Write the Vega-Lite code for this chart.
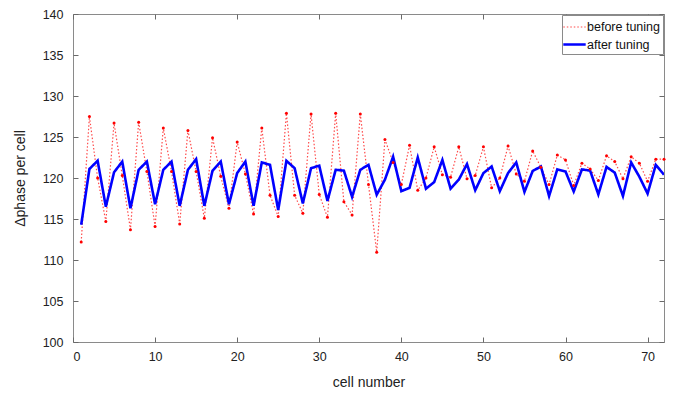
{
  "$schema": "https://vega.github.io/schema/vega-lite/v6.json",
  "width": 591,
  "height": 328,
  "autosize": {"type": "none"},
  "padding": {"left": 73, "top": 14, "right": 11, "bottom": 53},
  "config": {
    "font": "Liberation Sans",
    "view": {"stroke": "#8a8a8a", "strokeWidth": 1},
    "axis": {
      "domain": false,
      "grid": false,
      "tickColor": "#6a6a6a",
      "tickSize": -5,
      "tickWidth": 1,
      "labelFontSize": 12.5,
      "labelColor": "#222222",
      "titleFontSize": 14,
      "titleFontWeight": "normal",
      "titleColor": "#222222"
    },
    "legend": {
      "orient": "top-right",
      "offset": 1,
      "strokeColor": "#8a8a8a",
      "fillColor": "#ffffff",
      "padding": 3,
      "cornerRadius": 0,
      "labelFontSize": 12.5,
      "labelColor": "#111111",
      "symbolType": "M-1.4,0H1.4",
      "symbolSize": 256,
      "rowPadding": 1,
      "labelOffset": 3,
      "labelLimit": 200
    }
  },
  "data": {
    "values": [
      {"cell": 1, "before tuning": 112.2, "after tuning": 114.3},
      {"cell": 2, "before tuning": 127.5, "after tuning": 121.1},
      {"cell": 3, "before tuning": 120.0, "after tuning": 122.1},
      {"cell": 4, "before tuning": 114.7, "after tuning": 116.5},
      {"cell": 5, "before tuning": 126.7, "after tuning": 120.7},
      {"cell": 6, "before tuning": 120.3, "after tuning": 122.0},
      {"cell": 7, "before tuning": 113.7, "after tuning": 116.3},
      {"cell": 8, "before tuning": 126.8, "after tuning": 121.0},
      {"cell": 9, "before tuning": 120.8, "after tuning": 122.0},
      {"cell": 10, "before tuning": 114.1, "after tuning": 116.8},
      {"cell": 11, "before tuning": 126.1, "after tuning": 121.0},
      {"cell": 12, "before tuning": 120.8, "after tuning": 122.0},
      {"cell": 13, "before tuning": 114.4, "after tuning": 116.6},
      {"cell": 14, "before tuning": 125.8, "after tuning": 121.0},
      {"cell": 15, "before tuning": 120.8, "after tuning": 122.3},
      {"cell": 16, "before tuning": 115.1, "after tuning": 116.6},
      {"cell": 17, "before tuning": 124.9, "after tuning": 120.9},
      {"cell": 18, "before tuning": 120.2, "after tuning": 122.0},
      {"cell": 19, "before tuning": 116.3, "after tuning": 116.8},
      {"cell": 20, "before tuning": 124.4, "after tuning": 120.6},
      {"cell": 21, "before tuning": 120.5, "after tuning": 122.0},
      {"cell": 22, "before tuning": 115.6, "after tuning": 116.6},
      {"cell": 23, "before tuning": 126.1, "after tuning": 121.9},
      {"cell": 24, "before tuning": 117.9, "after tuning": 121.6},
      {"cell": 25, "before tuning": 115.3, "after tuning": 116.1},
      {"cell": 26, "before tuning": 127.9, "after tuning": 122.1},
      {"cell": 27, "before tuning": 117.9, "after tuning": 121.2},
      {"cell": 28, "before tuning": 115.7, "after tuning": 116.9},
      {"cell": 29, "before tuning": 127.8, "after tuning": 121.2},
      {"cell": 30, "before tuning": 118.0, "after tuning": 121.5},
      {"cell": 31, "before tuning": 115.2, "after tuning": 117.2},
      {"cell": 32, "before tuning": 127.9, "after tuning": 121.0},
      {"cell": 33, "before tuning": 117.1, "after tuning": 120.9},
      {"cell": 34, "before tuning": 115.5, "after tuning": 117.7},
      {"cell": 35, "before tuning": 127.8, "after tuning": 121.0},
      {"cell": 36, "before tuning": 119.2, "after tuning": 121.6},
      {"cell": 37, "before tuning": 110.95, "after tuning": 117.95},
      {"cell": 38, "before tuning": 124.7, "after tuning": 119.8},
      {"cell": 39, "before tuning": 121.9, "after tuning": 122.6},
      {"cell": 40, "before tuning": 119.2, "after tuning": 118.4},
      {"cell": 41, "before tuning": 124.0, "after tuning": 118.8},
      {"cell": 42, "before tuning": 118.5, "after tuning": 122.5},
      {"cell": 43, "before tuning": 120.0, "after tuning": 118.7},
      {"cell": 44, "before tuning": 123.8, "after tuning": 119.5},
      {"cell": 45, "before tuning": 120.4, "after tuning": 122.2},
      {"cell": 46, "before tuning": 120.1, "after tuning": 118.7},
      {"cell": 47, "before tuning": 123.8, "after tuning": 119.8},
      {"cell": 48, "before tuning": 119.9, "after tuning": 121.7},
      {"cell": 49, "before tuning": 120.3, "after tuning": 118.5},
      {"cell": 50, "before tuning": 123.8, "after tuning": 120.6},
      {"cell": 51, "before tuning": 118.8, "after tuning": 121.4},
      {"cell": 52, "before tuning": 120.0, "after tuning": 118.4},
      {"cell": 53, "before tuning": 123.9, "after tuning": 120.6},
      {"cell": 54, "before tuning": 120.5, "after tuning": 121.9},
      {"cell": 55, "before tuning": 119.6, "after tuning": 118.3},
      {"cell": 56, "before tuning": 123.3, "after tuning": 120.85},
      {"cell": 57, "before tuning": 121.3, "after tuning": 121.4},
      {"cell": 58, "before tuning": 119.2, "after tuning": 117.8},
      {"cell": 59, "before tuning": 122.8, "after tuning": 121.05},
      {"cell": 60, "before tuning": 122.2, "after tuning": 120.8},
      {"cell": 61, "before tuning": 119.1, "after tuning": 118.35},
      {"cell": 62, "before tuning": 121.8, "after tuning": 121.05},
      {"cell": 63, "before tuning": 121.1, "after tuning": 120.9},
      {"cell": 64, "before tuning": 119.7, "after tuning": 118.0},
      {"cell": 65, "before tuning": 122.7, "after tuning": 121.35},
      {"cell": 66, "before tuning": 122.0, "after tuning": 120.65},
      {"cell": 67, "before tuning": 119.9, "after tuning": 117.8},
      {"cell": 68, "before tuning": 122.6, "after tuning": 121.9},
      {"cell": 69, "before tuning": 121.8, "after tuning": 120.15},
      {"cell": 70, "before tuning": 119.6, "after tuning": 118.1},
      {"cell": 71, "before tuning": 122.3, "after tuning": 121.6},
      {"cell": 72, "before tuning": 122.3, "after tuning": 120.4}
    ]
  },
  "transform": [{"fold": ["before tuning", "after tuning"], "as": ["series", "value"]}],
  "layer": [
    {
      "mark": {"type": "line", "clip": true},
      "encoding": {
        "x": {
          "field": "cell", "type": "quantitative",
          "scale": {"domain": [0, 72], "nice": false},
          "axis": {"orient": "bottom", "title": "cell number", "values": [0, 10, 20, 30, 40, 50, 60, 70], "labelPadding": 13, "titlePadding": 13}
        },
        "y": {
          "field": "value", "type": "quantitative",
          "scale": {"domain": [100, 140], "nice": false, "zero": false},
          "axis": {"orient": "left", "title": "Δphase per cell", "values": [100, 105, 110, 115, 120, 125, 130, 135, 140], "labelPadding": 15, "titlePadding": 15}
        },
        "color": {
          "field": "series", "type": "nominal", "title": null,
          "scale": {"domain": ["before tuning", "after tuning"], "range": ["#ff4a4a", "#0000ff"]}
        },
        "strokeDash": {
          "field": "series", "type": "nominal", "title": null,
          "scale": {"domain": ["before tuning", "after tuning"], "range": [[1.5, 2], [1, 0]]}
        },
        "strokeWidth": {
          "field": "series", "type": "nominal", "title": null,
          "scale": {"domain": ["before tuning", "after tuning"], "range": [1.2, 2.6]}
        }
      }
    },
    {
      "transform": [{"filter": "datum.series == 'before tuning'"}],
      "mark": {"type": "point", "filled": true, "size": 9, "color": "#ff0000", "opacity": 1},
      "encoding": {
        "x": {
          "field": "cell", "type": "quantitative",
          "scale": {"domain": [0, 72], "nice": false},
          "axis": {"orient": "top", "title": null, "labels": false, "values": [0, 10, 20, 30, 40, 50, 60, 70]}
        },
        "y": {
          "field": "value", "type": "quantitative",
          "scale": {"domain": [100, 140], "nice": false, "zero": false},
          "axis": {"orient": "right", "title": null, "labels": false, "values": [100, 105, 110, 115, 120, 125, 130, 135, 140]}
        }
      }
    }
  ],
  "resolve": {"axis": {"x": "independent", "y": "independent"}}
}
